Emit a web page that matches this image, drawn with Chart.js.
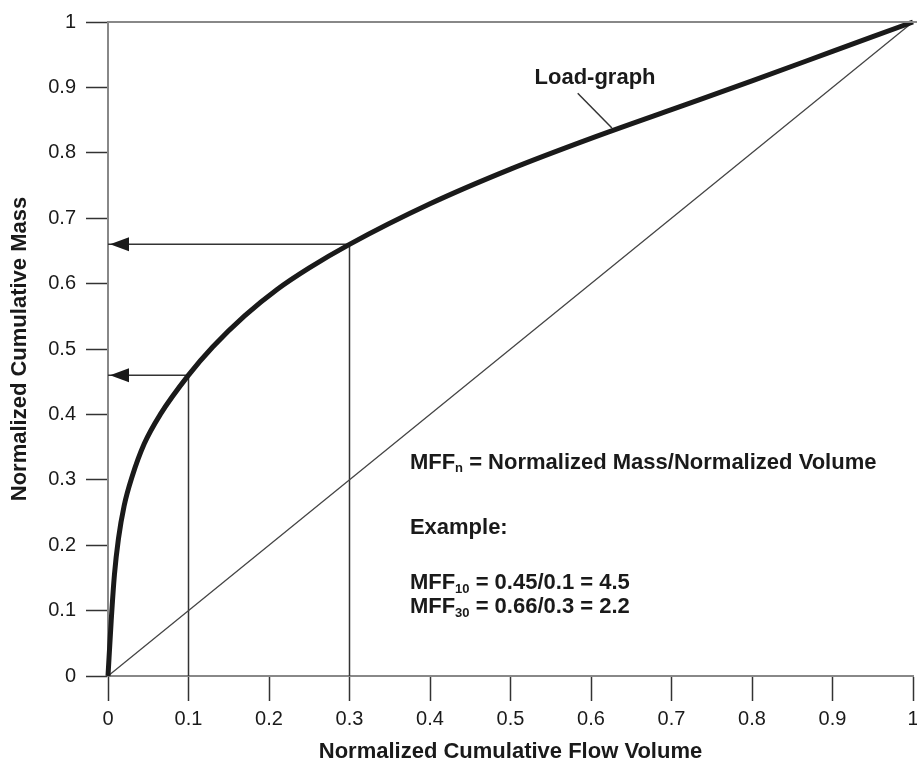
<!DOCTYPE html>
<html>
<head>
<meta charset="utf-8">
<script src="https://cdn.jsdelivr.net/npm/chart.js@4.4.0/dist/chart.umd.min.js"></script>
<style>
  html, body { margin: 0; padding: 0; background: #fff; }
  #wrap { width: 917px; height: 762px; }
</style>
</head>
<body>
<div id="wrap"><canvas id="loadChart" width="917" height="762"></canvas></div>
<script>
// Load-graph points (normalized flow volume -> normalized mass)
const flowVolume = [0, 0.004, 0.008, 0.013, 0.02, 0.03, 0.045, 0.065, 0.1, 0.13, 0.17, 0.21, 0.25, 0.3, 0.4, 0.5, 0.6, 0.7, 0.8, 0.9, 1];
const cumMass    = [0, 0.085, 0.155, 0.21, 0.26, 0.305, 0.355, 0.40, 0.46, 0.503, 0.551, 0.591, 0.624, 0.66, 0.722, 0.775, 0.822, 0.866, 0.91, 0.955, 1];

// 1:1 reference line
const diagVolume = [0, 1];
const diagMass = [0, 1];

// Example read-offs (MFF10, MFF30)
const exampleVolume = [0.1, 0.3];
const exampleMass = [0.46, 0.66];

// Leader line from the "Load-graph" label to the curve
const leaderVolume = [0.5835, 0.626];
const leaderMass = [0.891, 0.838];

const axisMin = 0;
const axisMax = 1;
const tickStep = 0.1;

const ink = '#1a1a1a';
const fontFamily = '"Liberation Sans", Arial, Helvetica, sans-serif';

function toPoints(xs, ys) {
    return xs.map((x, i) => ({ x: x, y: ys[i] }));
}

// Vertical drop line plus horizontal read-off for each example
const exampleSets = exampleVolume.map((v, i) => ({
    data: [{ x: v, y: 0 }, { x: v, y: exampleMass[i] }, { x: 0, y: exampleMass[i] }],
    borderColor: '#333',
    borderWidth: 1.5,
    pointRadius: 0,
    tension: 0,
    clip: false
}));

// Draws the frame top, arrow heads and the text notes
const notesPlugin = {
    id: 'notes',
    afterDatasetsDraw(chart) {
        const ctx = chart.ctx;
        const xs = chart.scales.x;
        const ys = chart.scales.y;
        const area = chart.chartArea;
        ctx.save();

        // top edge of the frame
        ctx.strokeStyle = '#888';
        ctx.lineWidth = 2;
        ctx.beginPath();
        ctx.moveTo(area.left, area.top);
        ctx.lineTo(area.right + 4, area.top);
        ctx.stroke();

        // arrow heads pointing at the mass axis
        ctx.fillStyle = ink;
        exampleMass.forEach(m => {
            const px = xs.getPixelForValue(0) + 2;
            const py = ys.getPixelForValue(m);
            ctx.beginPath();
            ctx.moveTo(px, py);
            ctx.lineTo(px + 19, py - 7);
            ctx.lineTo(px + 19, py + 7);
            ctx.closePath();
            ctx.fill();
        });

        // leader line
        ctx.strokeStyle = '#333';
        ctx.lineWidth = 1.5;
        ctx.beginPath();
        ctx.moveTo(xs.getPixelForValue(leaderVolume[0]), ys.getPixelForValue(leaderMass[0]));
        ctx.lineTo(xs.getPixelForValue(leaderVolume[1]), ys.getPixelForValue(leaderMass[1]));
        ctx.stroke();

        ctx.fillStyle = ink;
        ctx.textBaseline = 'middle';
        ctx.font = 'bold 22px ' + fontFamily;
        ctx.textAlign = 'center';
        ctx.fillText('Load-graph', xs.getPixelForValue(0.605), ys.getPixelForValue(0.915));

        // text with subscript pieces: [text, isSub]
        function drawRuns(runs, x, y) {
            ctx.textAlign = 'left';
            runs.forEach(r => {
                if (r[1]) {
                    ctx.font = 'bold 13px ' + fontFamily;
                    ctx.fillText(r[0], x, y + 6);
                } else {
                    ctx.font = 'bold 22px ' + fontFamily;
                    ctx.fillText(r[0], x, y);
                }
                x += ctx.measureText(r[0]).width;
            });
        }

        const left = xs.getPixelForValue(0.375);
        drawRuns([['MFF', false], ['n', true], [' = Normalized Mass/Normalized Volume', false]], left, ys.getPixelForValue(0.326));
        drawRuns([['Example:', false]], left, ys.getPixelForValue(0.226));
        drawRuns([['MFF', false], ['10', true], [' = 0.45/0.1 = 4.5', false]], left, ys.getPixelForValue(0.142));
        drawRuns([['MFF', false], ['30', true], [' = 0.66/0.3 = 2.2', false]], left, ys.getPixelForValue(0.105));

        ctx.restore();
    }
};

function createLoadChart() {
    const ctx = document.getElementById('loadChart').getContext('2d');

    const chart = new Chart(ctx, {
        type: 'line',
        data: {
            datasets: [
                {
                    label: 'Load-graph',
                    data: toPoints(flowVolume, cumMass),
                    borderColor: ink,
                    borderWidth: 5,
                    pointRadius: 0,
                    cubicInterpolationMode: 'monotone',
                    clip: false
                },
                {
                    label: 'Diagonal',
                    data: toPoints(diagVolume, diagMass),
                    borderColor: '#444',
                    borderWidth: 1.3,
                    pointRadius: 0,
                    clip: false
                },
                ...exampleSets
            ]
        },
        options: {
            responsive: false,
            animation: false,
            layout: { padding: { top: 20, left: 0, right: 0, bottom: 0 } },
            plugins: {
                legend: { display: false },
                tooltip: { enabled: false }
            },
            scales: {
                x: {
                    type: 'linear',
                    min: axisMin,
                    max: axisMax,
                    afterFit: scale => {
                        scale.height = 86;
                        scale.paddingRight = 4; // let the last label run off the edge
                    },
                    ticks: {
                        stepSize: tickStep,
                        padding: 6,
                        color: ink,
                        font: { family: fontFamily, size: 20 },
                        callback: v => String(Number(v.toFixed(1)))
                    },
                    grid: {
                        drawOnChartArea: false,
                        tickLength: 25,
                        tickColor: '#333',
                        tickWidth: 1.5
                    },
                    border: { color: '#888', width: 2 },
                    title: {
                        display: true,
                        text: 'Normalized Cumulative Flow Volume',
                        color: ink,
                        padding: { top: 0, bottom: -3 },
                        font: { family: fontFamily, size: 22, weight: 'bold' }
                    }
                },
                y: {
                    type: 'linear',
                    min: axisMin,
                    max: axisMax,
                    afterFit: scale => { scale.width = 108; },
                    ticks: {
                        stepSize: tickStep,
                        padding: 10,
                        color: ink,
                        font: { family: fontFamily, size: 20 },
                        callback: v => String(Number(v.toFixed(1)))
                    },
                    grid: {
                        drawOnChartArea: false,
                        tickLength: 22,
                        tickColor: '#333',
                        tickWidth: 1.5
                    },
                    border: { color: '#888', width: 2 },
                    title: {
                        display: true,
                        text: 'Normalized Cumulative Mass',
                        color: ink,
                        padding: { top: 7, bottom: 0 },
                        font: { family: fontFamily, size: 22, weight: 'bold' }
                    }
                }
            }
        },
        plugins: [notesPlugin]
    });

    window.loadChart = chart;
}

window.addEventListener('load', function () {
    createLoadChart();
});
</script>
</body>
</html>
